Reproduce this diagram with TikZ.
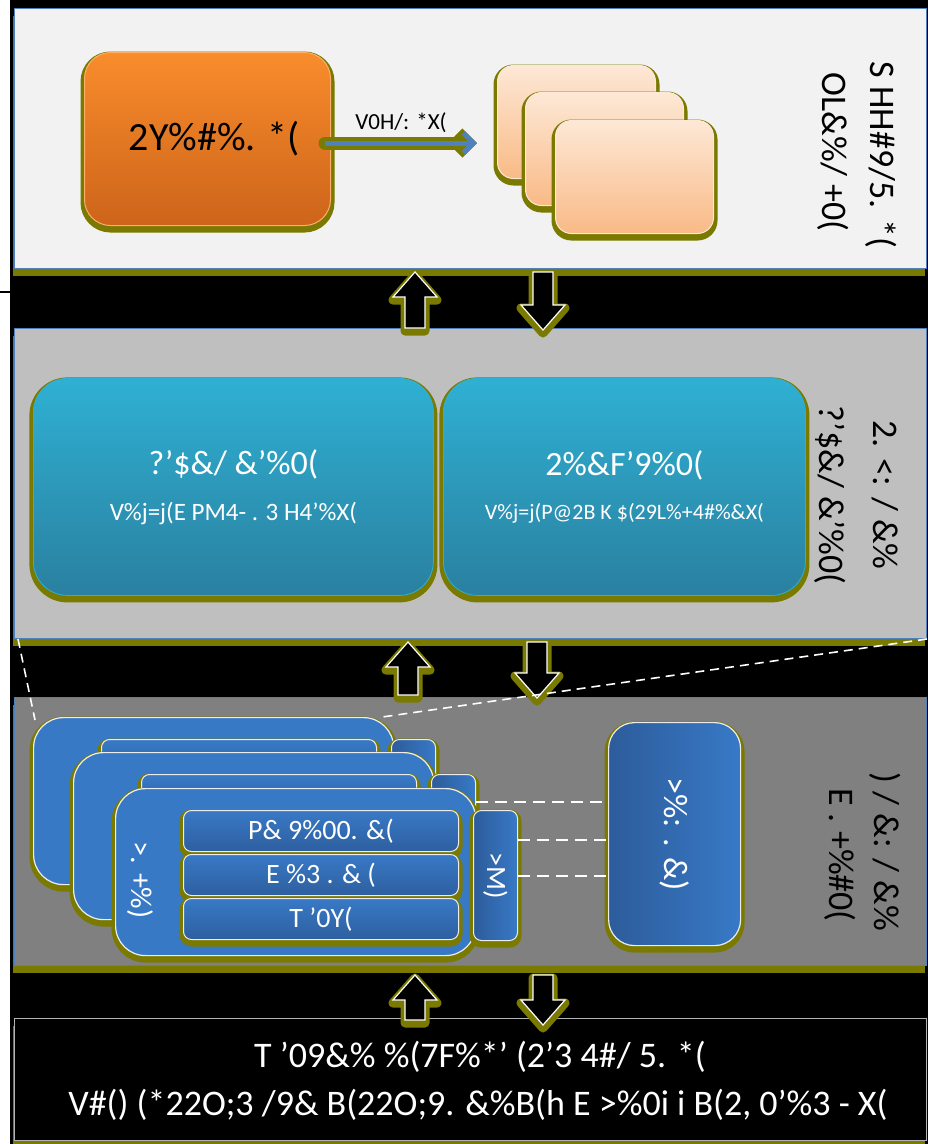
\documentclass[tikz,border=0pt]{standalone}
\usepackage{fontspec}
\setmainfont{Carlito}
\usetikzlibrary{arrows.meta}

\definecolor{glowc}{RGB}{122,122,0}
\definecolor{paneledge}{RGB}{79,129,189}
\definecolor{panelA}{RGB}{242,242,242}
\definecolor{panelB}{RGB}{191,191,191}
\definecolor{panelC}{RGB}{128,128,128}
\definecolor{orangetop}{RGB}{249,140,44}
\definecolor{orangebot}{RGB}{205,100,26}
\definecolor{peachtop}{RGB}{253,232,214}
\definecolor{peachbot}{RGB}{249,186,134}
\definecolor{tealtop}{RGB}{47,176,211}
\definecolor{tealbot}{RGB}{42,128,160}
\definecolor{cardblue}{RGB}{56,121,198}
\definecolor{carddark}{RGB}{45,92,155}
\definecolor{flowblue}{RGB}{79,129,189}

\tikzset{
 panel/.style={draw=paneledge, line width=1pt, inner sep=0pt, anchor=north west,
   preaction={fill=glowc, transform canvas={xshift=-2pt, yshift=-7pt}}},
 glow/.style={preaction={draw=glowc, fill=glowc, line width=8pt, transform canvas={yshift=-3pt}}},
 orangebox/.style={glow, rounded corners=26pt, top color=orangetop, bottom color=orangebot,
   draw=orangetop!70!white, line width=1pt, anchor=north west, font=\fontsize{40}{44}\selectfont},
 peachbox/.style={glow, rounded corners=16pt, top color=peachtop, bottom color=peachbot,
   draw=peachtop, line width=1pt, anchor=north west, minimum width=158pt, minimum height=113pt},
 tealbox/.style={glow, rounded corners=34pt, top color=tealtop, bottom color=tealbot,
   draw=tealtop, line width=0.8pt, anchor=north west, text=white, align=center},
 cardbox/.style={glow, rounded corners=30pt, fill=cardblue, draw=white!85!gray, line width=1.2pt,
   anchor=north west, minimum width=360pt, minimum height=167pt},
 barbox/.style={glow, rounded corners=8pt, top color=cardblue, bottom color=carddark!90!cardblue,
   draw=white!85!gray, line width=1pt, anchor=north west, minimum width=275pt, minimum height=41pt,
   text=white, font=\fontsize{26}{28}\selectfont},
 sidebox/.style={glow, rounded corners=8pt, left color=carddark, right color=cardblue,
   draw=white!85!gray, line width=1pt, anchor=north west, minimum width=44pt, minimum height=130pt},
 sidelabel/.style={rotate=-90, font=\fontsize{36}{38}\selectfont},
 blockarr/.style={fill=black, draw=white, line width=1.2pt,
   preaction={draw=glowc, line width=9pt, line join=round, transform canvas={yshift=-3pt}}},
 flowarr/.style={draw=flowblue, line width=5pt, -{Straight Barb[length=10pt, width=20pt, line width=5pt]},
   preaction={draw=glowc, line width=13pt, line cap=round, -{Straight Barb[length=10pt, width=20pt, line width=13pt]}}},
 zoomline/.style={draw=white, line width=1.6pt, dash pattern=on 9pt off 6pt},
 linkline/.style={draw=white, line width=2.6pt, dash pattern=on 12pt off 7pt}
}

\begin{document}
\begin{tikzpicture}[x=1pt, y=-1pt]
\useasboundingbox (0,0) rectangle (928,1144);
\fill[black] (10,0) rectangle (928,1144);
\draw[black, line width=2pt] (0,292) -- (12,292);

% four bands
\node[panel, fill=panelA, minimum width=912pt, minimum height=260pt] (topband) at (14,8) {};
\node[panel, fill=panelB, minimum width=912pt, minimum height=310pt] (midband) at (14,328) {};
\node[panel, fill=panelC, minimum width=912pt, minimum height=268pt] (lowband) at (14,697) {};
\node[panel, fill=black, draw=gray!60, minimum width=912pt, minimum height=122pt] (baseband) at (14,1018) {};

% arrows between bands
\foreach \cx/\ya/\yb in {415/272/328, 408/642/695, 415/975/1020}
 \draw[blockarr] (\cx,\ya) -- (\cx+22,\ya+25) -- (\cx+10,\ya+25) -- (\cx+10,\yb)
   -- (\cx-10,\yb) -- (\cx-10,\ya+25) -- (\cx-22,\ya+25) -- cycle;
\foreach \cx/\ya/\yb in {543/272/330, 537/642/698, 543/975/1025}
 \draw[blockarr] (\cx,\yb) -- (\cx+22,\yb-25) -- (\cx+10,\yb-25) -- (\cx+10,\ya)
   -- (\cx-10,\ya) -- (\cx-10,\yb-25) -- (\cx-22,\yb-25) -- cycle;

% top band
\node[orangebox, minimum width=246pt, minimum height=173pt] (engine) at (84,52) {\hspace*{14pt}2Y\%\#\%. *(};
\node[peachbox] (copy1) at (497,65) {};
\node[peachbox] (copy2) at (525,92) {};
\node[peachbox] (copy3) at (555,120) {};
\coordinate (tip) at ([yshift=-4pt]engine.east -| copy1.west);
\draw[flowarr] ([xshift=-6pt, yshift=-4pt]engine.east) -- ([xshift=-20pt]tip)
  node[midway, above=4pt, font=\fontsize{23}{25}\selectfont] (flowlabel) {V0H/: *X(};
\node[sidelabel] (toplabA) at (881,155) {S HH\#9/5. *(};
\node[sidelabel] (toplabB) at (833,152) {OL\&\%/ +0(};

% middle band
\node[tealbox, minimum width=400pt, minimum height=217pt] (sched) at (33,378)
 {{\fontsize{34}{38}\selectfont ?'\$\&/ \&'\%0(}\\[22pt]{\fontsize{25}{27}\selectfont V\%j=j(E PM4- . 3 H4'\%X(}};
\node[tealbox, minimum width=362pt, minimum height=217pt] (exec) at (443,378)
 {{\fontsize{34}{38}\selectfont 2\%\&F'9\%0(}\\[22pt]{\fontsize{22}{24}\selectfont V\%j=j(P@2B K \$(29L\%+4\#\%\&X(}};
\node[sidelabel] (midlabA) at (885,495) {2. <: / \&\%};
\node[sidelabel] (midlabB) at (830,495) {?'\$\&/ \&'\%0(};

% lower band: stacked cards
\foreach \n/\cx/\cy in {1/33/717, 2/73/752, 3/115/788}{
 \begin{scope}[xshift=\cx pt, yshift=-\cy pt]
  \node[cardbox] (card\n) at (0,0) {};
  \node[sidebox] (side\n) at (358,22) {};
  \node[barbox] (barA\n) at (68,22) {};
  \node[barbox] (barB\n) at (68,66) {};
  \node[barbox] (barC\n) at (68,110) {};
 \end{scope}
}
\node[font=\fontsize{28}{30}\selectfont, text=white] at (barA3) {P\& 9\%00. \&(};
\node[font=\fontsize{28}{30}\selectfont, text=white] at (barB3) {E \%3 . \& (};
\node[font=\fontsize{28}{30}\selectfont, text=white] at (barC3) {T '0Y(};
\node[sidelabel, text=white, font=\fontsize{30}{32}\selectfont] (cardlab) at (140,880) {>. +\%)};
\node[sidelabel, text=white, font=\fontsize{28}{30}\selectfont] (sidelab) at (side3) {>M)};

\node[glow, rounded corners=26pt, left color=carddark, right color=cardblue, draw=white!85!gray,
  line width=1.2pt, anchor=north west, minimum width=132pt, minimum height=223pt] (store) at (608,722) {};
\node[sidelabel, text=white, font=\fontsize{34}{36}\selectfont] (storelab) at (store) {>\%: . \&)};

\draw[linkline] (side2.east |- 0,802) -- (store.west |- 0,802);
\draw[linkline] (side3.east |- 0,840) -- (store.west |- 0,840);
\draw[linkline] (side3.east |- 0,876) -- (store.west |- 0,876);

\draw[zoomline] ([xshift=4pt]midband.south west) -- ([xshift=2pt, yshift=-3pt]card1.north west);
\draw[zoomline] (midband.south east) -- ([xshift=-12pt]card1.north east);

\node[sidelabel] (lowlabA) at (885,852) {) / \&: / \&\%};
\node[sidelabel] (lowlabB) at (840,855) {E . +\%\#0(};

% base band
\node[text=white, font=\fontsize{36}{38}\selectfont] (baseA) at (480,1057) {T '09\&\% \%(7F\%*' (2'3 4\#/ 5. *(};
\node[text=white, font=\fontsize{36}{38}\selectfont] (baseB) at (478,1105) {V\#() (*22O;3 /9\& B(22O;9. \&\%B(h E >\%0i i B(2, 0'\%3 - X(};
\end{tikzpicture}
\end{document}
